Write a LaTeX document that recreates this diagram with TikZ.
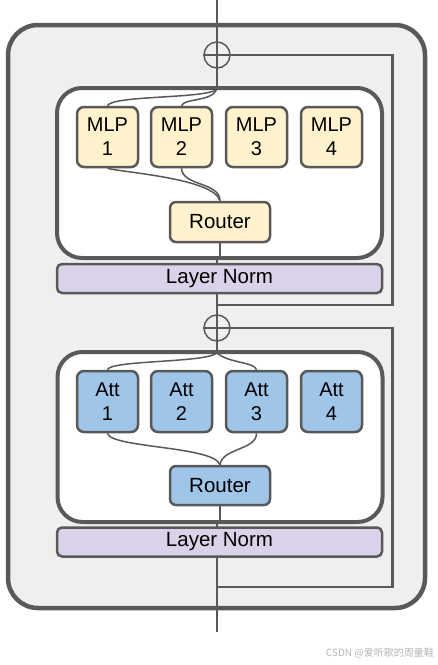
\documentclass[tikz,border=0pt]{standalone}
\usepackage{fontspec}
\setmainfont{Liberation Sans}
\newfontfamily\cjk{Noto Sans CJK SC}
\definecolor{edgec}{HTML}{595959}
\definecolor{outerfill}{HTML}{EFEFEF}
\definecolor{mlpfill}{HTML}{FFF2CC}
\definecolor{attfill}{HTML}{9FC5E8}
\definecolor{normfill}{HTML}{D9D2E9}
\definecolor{wmark}{HTML}{B4B4B4}
\begin{document}
\begin{tikzpicture}[x=1pt,y=-1pt,
  outerbox/.style={draw=edgec,fill=outerfill,line width=4.5pt,rounded corners=30pt,minimum width=417pt,minimum height=583pt,inner sep=0pt},
  innerbox/.style={draw=edgec,fill=white,line width=4pt,rounded corners=25pt,minimum width=325pt,minimum height=170pt,inner sep=0pt},
  expert/.style={draw=edgec,line width=2.5pt,rounded corners=7pt,minimum width=61pt,minimum height=60pt,inner sep=0pt,align=center,font=\fontsize{20}{24}\selectfont},
  routerbox/.style={draw=edgec,line width=2.5pt,rounded corners=6pt,minimum width=100pt,minimum height=40pt,inner sep=0pt,font=\fontsize{20.5}{23}\selectfont},
  normbox/.style={draw=edgec,fill=normfill,line width=2.5pt,rounded corners=5pt,minimum width=325pt,minimum height=29pt,inner sep=0pt,font=\fontsize{20.5}{23}\selectfont},
  mainline/.style={draw=edgec,line width=2.7pt},
  skipline/.style={draw=edgec,line width=2.2pt},
  wire/.style={draw=edgec,line width=1.5pt},
  addnode/.style={circle,draw=edgec,line width=1.5pt,minimum size=26pt,inner sep=0pt}
]
\useasboundingbox (0,0) rectangle (438,665);
% outer block
\node[outerbox] (outer) at (216.5,316.5) {};
% main line
\coordinate (top) at (217,0);
\coordinate (bot) at (217,632);
\draw[mainline] (top) -- (bot);
% residual adds
\node[addnode] (add1) at (217,55) {};
\node[addnode] (add2) at (217,328) {};
\draw[mainline] (add1.west) -- (add1.east);
\draw[mainline] (add2.west) -- (add2.east);
\coordinate (s1a) at (392.5,55);
\coordinate (s1b) at (392.5,305);
\coordinate (s1c) at (217,305);
\coordinate (s2a) at (392.5,328);
\coordinate (s2b) at (392.5,587);
\coordinate (s2c) at (217,587);
\draw[skipline] (add1.east) -- (s1a) -- (s1b) -- (s1c);
\draw[skipline] (add2.east) -- (s2a) -- (s2b) -- (s2c);
% inner boxes
\node[innerbox] (inA) at (219.5,173) {};
\node[innerbox] (inB) at (220,437) {};
% layer norms
\node[normbox] (ln1) at (219.5,278.5) {Layer Norm};
\node[normbox] (ln2) at (219.5,542) {Layer Norm};
% MLP experts
\node[expert,fill=mlpfill] (m1) at (107.5,137) {MLP\\1};
\node[expert,fill=mlpfill] (m2) at (181.5,137) {MLP\\2};
\node[expert,fill=mlpfill] (m3) at (256.5,137) {MLP\\3};
\node[expert,fill=mlpfill] (m4) at (331.5,137) {MLP\\4};
\node[routerbox,fill=mlpfill] (r1) at (220,222) {Router};
% Att experts
\node[expert,fill=attfill,minimum height=61pt] (a1) at (107.5,401.5) {Att\\1};
\node[expert,fill=attfill,minimum height=61pt] (a2) at (181.5,401.5) {Att\\2};
\node[expert,fill=attfill,minimum height=61pt] (a3) at (256.5,401.5) {Att\\3};
\node[expert,fill=attfill,minimum height=61pt] (a4) at (331.5,401.5) {Att\\4};
\node[routerbox,fill=attfill,minimum height=39pt] (r2) at (220,485.5) {Router};
% router outputs to box bottoms
\coordinate (inAb) at (217,258);
\coordinate (inBb) at (217,522);
\coordinate (inAt) at (217,89);
\coordinate (inBt) at (217,353);
\draw[wire] (r1.south) -- (r1.south |- inAb);
\draw[wire] (r2.south) -- (r2.south |- inBb);
% MLP wiring
\draw[wire] (inAt) .. controls (208,99) and (112,95) .. (m1.north);
\draw[wire] (inAt) .. controls (212,102) and (184,98) .. (m2.north);
\draw[wire] (m1.south) .. controls (118,172) and (214,178) .. (r1.north);
\draw[wire] (m2.south) .. controls (182,186) and (220,182) .. (r1.north);
% Att wiring
\draw[wire] (inBt) .. controls (205,363) and (110,360) .. (a1.north);
\draw[wire] (inBt) .. controls (228,363) and (255,362) .. (a3.north);
\draw[wire] (a1.south) .. controls (110,448) and (214,446) .. (r2.north);
\draw[wire] (a3.south) .. controls (257,450) and (222,448) .. (r2.north);
% watermark
\node[text=wmark,font=\cjk\fontsize{10}{11}\selectfont,anchor=east,inner sep=0pt] (wm) at (434,653) {CSDN @爱听歌的周童鞋};
\end{tikzpicture}
\end{document}
